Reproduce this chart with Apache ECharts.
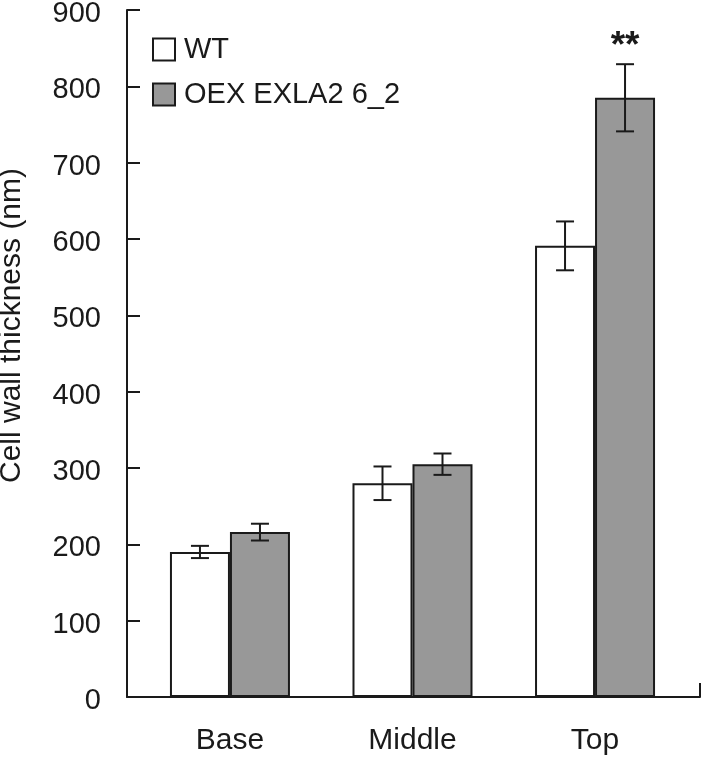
<!DOCTYPE html>
<html>
<head>
<meta charset="utf-8">
<script src="https://cdn.jsdelivr.net/npm/echarts@6/dist/echarts.min.js"></script>
<style>html,body{margin:0;padding:0;background:#fff;}#c{width:701px;height:757px;}</style>
</head>
<body>
<div id="c"></div>
<script>
const categories = ['Base', 'Middle', 'Top'];
const seriesNames = ['WT', 'OEX EXLA2 6_2'];
const wtValues = [190, 280, 591];
const wtErrors = [8, 22, 32];
const oexValues = [216, 305, 785];
const oexErrors = [11, 14, 44];
const oexSignificance = ['', '', '**'];
const yTicks = [0, 100, 200, 300, 400, 500, 600, 700, 800, 900];

const FONT = 'Liberation Sans, Arial, Helvetica, sans-serif';
const INK = '#1a1a1a';
const BAR_W = 60;

const chart = echarts.init(document.getElementById('c'), null, {renderer: 'canvas'});

function errSeries(values, errors, sig, offset) {
  return {
    type: 'custom',
    silent: true,
    z: 10,
    data: values.map((v, i) => [i, v - errors[i], v + errors[i], sig ? sig[i] : '']),
    renderItem: function (params, api) {
      const x = api.value(0);
      const lo = api.coord([x, api.value(1)]);
      const hi = api.coord([x, api.value(2)]);
      const cx = lo[0] + offset;
      const cap = 9;
      const st = {stroke: INK, lineWidth: 2};
      const children = [
        {type: 'line', shape: {x1: cx, y1: lo[1], x2: cx, y2: hi[1]}, style: st},
        {type: 'line', shape: {x1: cx - cap, y1: lo[1], x2: cx + cap, y2: lo[1]}, style: st},
        {type: 'line', shape: {x1: cx - cap, y1: hi[1], x2: cx + cap, y2: hi[1]}, style: st}
      ];
      const s = api.value(3);
      if (s) {
        children.push({type: 'text', style: {text: s, x: cx, y: hi[1] - 17, align: 'center', verticalAlign: 'middle', fontSize: 37, fontWeight: 'bold', fontFamily: FONT, fill: INK}});
      }
      return {type: 'group', children: children};
    }
  };
}

const option = {
  animation: false,
  backgroundColor: '#ffffff',
  grid: {left: 127, right: 1, top: 10, bottom: 60, containLabel: false, outerBoundsMode: 'none'},
  legend: {
    orient: 'vertical',
    left: 147,
    top: 30,
    itemWidth: 22,
    itemHeight: 22,
    itemGap: 16,
    icon: 'rect',
    textStyle: {fontSize: 29, fontFamily: FONT, color: INK, padding: [0, 0, 0, 4]},
    data: seriesNames
  },
  xAxis: {
    type: 'value',
    min: -0.564,
    max: 2.575,
    axisLine: {show: true, onZero: false, lineStyle: {color: INK, width: 2}},
    axisTick: {show: true, inside: true, length: 14, lineStyle: {color: INK, width: 2}, customValues: [2.575]},
    axisLabel: {show: true, customValues: [0, 1, 2], formatter: v => categories[Math.round(v)], fontSize: 30, fontFamily: FONT, color: INK, margin: 29},
    splitLine: {show: false}
  },
  yAxis: {
    type: 'value',
    min: 0,
    max: 900,
    interval: 100,
    name: 'Cell wall thickness (nm)',
    nameLocation: 'middle',
    nameGap: 100,
    nameTextStyle: {fontSize: 30, fontFamily: FONT, color: INK, padding: [0, 0, 0, 56]},
    axisLine: {show: true, onZero: false, lineStyle: {color: INK, width: 2}},
    axisTick: {show: true, inside: true, length: 13, lineStyle: {color: INK, width: 2}},
    axisLabel: {
      fontSize: 29, fontFamily: FONT, color: INK, margin: 26,
      formatter: v => yTicks.includes(v) ? '{t|' + v + '}' : '',
      rich: {t: {fontSize: 29, fontFamily: FONT, color: INK, padding: [8, 0, 0, 0]}}
    },
    splitLine: {show: false}
  },
  series: [
    {
      name: seriesNames[0],
      type: 'bar',
      barWidth: BAR_W,
      barGap: '0%',
      data: wtValues.map((v, i) => [i, v]),
      itemStyle: {color: '#ffffff', borderColor: INK, borderWidth: 2}
    },
    {
      name: seriesNames[1],
      type: 'bar',
      barWidth: BAR_W,
      barGap: '0%',
      data: oexValues.map((v, i) => [i, v]),
      itemStyle: {color: '#989898', borderColor: INK, borderWidth: 2}
    },
    errSeries(wtValues, wtErrors, null, -BAR_W / 2),
    errSeries(oexValues, oexErrors, oexSignificance, BAR_W / 2)
  ]
};
chart.setOption(option);
</script>
</body>
</html>
